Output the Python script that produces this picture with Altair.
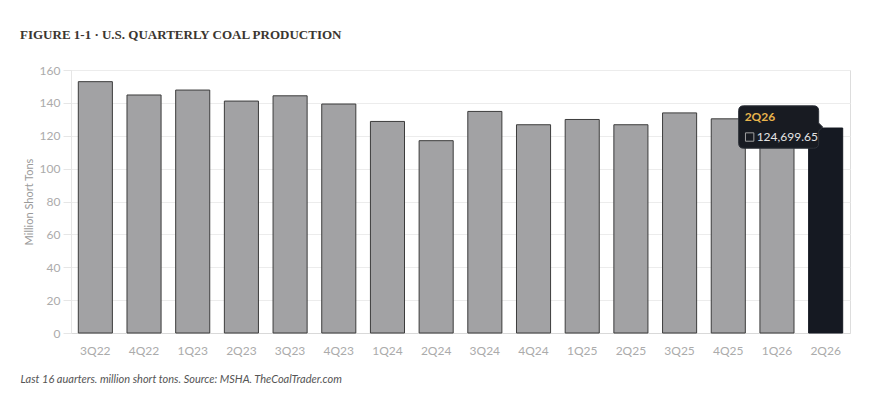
import altair as alt
import pandas as pd

quarters = ["3Q22", "4Q22", "1Q23", "2Q23", "3Q23", "4Q23", "1Q24", "2Q24",
            "3Q24", "4Q24", "1Q25", "2Q25", "3Q25", "4Q25", "1Q26", "2Q26"]
production = [152.9, 144.8, 147.8, 141.1, 144.3, 139.3, 128.7, 117.0,
              134.8, 126.7, 129.9, 126.7, 133.9, 130.3, 127.5, 124.69965]
y_ticks = [0, 20, 40, 60, 80, 100, 120, 140, 160]
highlight = "2Q26"

df = pd.DataFrame({"quarter": quarters, "value": production})
df["hl"] = df["quarter"] == highlight

FONT = "Lato"

x_enc = alt.X(
    "quarter:N", sort=quarters,
    scale=alt.Scale(paddingInner=0.3, paddingOuter=0.15),
    axis=alt.Axis(
        title="Last 16 quarters, million short tons. Source: MSHA, TheCoalTrader.com",
        titleFont=FONT, titleFontStyle="italic", titleFontWeight="normal",
        titleFontSize=11, titleColor="#555555",
        titleAnchor="start", titleAlign="left", titleX=-51, titlePadding=17,
        labelAngle=0, labelFont=FONT, labelFontSize=12, labelColor="#ababab",
        labelPadding=12, ticks=False, domainColor="#d9d9d9", grid=False,
    ),
)
y_enc = alt.Y(
    "value:Q",
    scale=alt.Scale(domain=[0, 160], nice=False),
    axis=alt.Axis(
        title="Million Short Tons", titleFont=FONT, titleFontSize=11,
        titleFontWeight="normal", titleColor="#9a9a9a", titlePadding=5,
        values=y_ticks, labelOverlap=False,
        labelFont=FONT, labelFontSize=12, labelColor="#ababab", labelPadding=3,
        tickSize=8, tickColor="#e6e6e6", domainColor="#e6e6e6",
        gridColor="#ececec", grid=True,
    ),
)

bars = alt.Chart(df).mark_bar(strokeWidth=1).encode(
    x=x_enc, y=y_enc,
    fill=alt.condition("datum.hl", alt.value("#151922"), alt.value("#a2a2a4")),
    stroke=alt.condition("datum.hl", alt.value("#151922"), alt.value("#3c3c3c")),
)

tip_src = alt.Chart(df).transform_filter(
    alt.datum.quarter == highlight
).transform_calculate(
    label="format(datum.value * 1000, ',.2f')"
)

box_path = ("M-0.875,-0.53 L0.875,-0.53 Q1,-0.53 1,-0.405 L1,-0.1 L1.1,0 L1,0.1 "
            "L1,0.405 Q1,0.53 0.875,0.53 L-0.875,0.53 Q-1,0.53 -1,0.405 "
            "L-1,-0.405 Q-1,-0.53 -0.875,-0.53 Z")

tip_box = tip_src.mark_point(
    shape=box_path, size=6400, filled=True, fill="#181b22", opacity=1,
    stroke="#2e323a", strokeWidth=1, xOffset=-47, yOffset=-1,
).encode(x=x_enc, y=y_enc)

tip_title = tip_src.mark_text(
    align="left", baseline="middle", dx=-81, dy=-11,
    font=FONT, fontSize=12, fontWeight="bold", color="#e8b44c",
).encode(x=x_enc, y=y_enc, text="quarter:N")

tip_square = tip_src.mark_point(
    shape="square", size=70, filled=False, stroke="#a0a0a0", strokeWidth=1,
    opacity=1, xOffset=-76, yOffset=9,
).encode(x=x_enc, y=y_enc)

tip_value = tip_src.mark_text(
    align="left", baseline="middle", dx=-69, dy=9,
    font=FONT, fontSize=12, color="#e4e4e4",
).encode(x=x_enc, y=y_enc, text="label:N")

chart = alt.layer(bars, tip_box, tip_title, tip_square, tip_value).properties(
    width=779, height=263,
    title=alt.TitleParams(
        "FIGURE 1-1 · U.S. QUARTERLY COAL PRODUCTION",
        anchor="start", frame="group", dx=-51, offset=22,
        font="Liberation Serif", fontSize=13, fontWeight="bold", color="#3b3630",
    ),
    padding={"left": 63, "top": 62, "right": 10, "bottom": 50},
    autosize=alt.AutoSizeParams(type="none"),
).configure_view(stroke=None).configure(background="white")

chart.save("out.html", embed_options={"renderer": "svg", "actions": False})
